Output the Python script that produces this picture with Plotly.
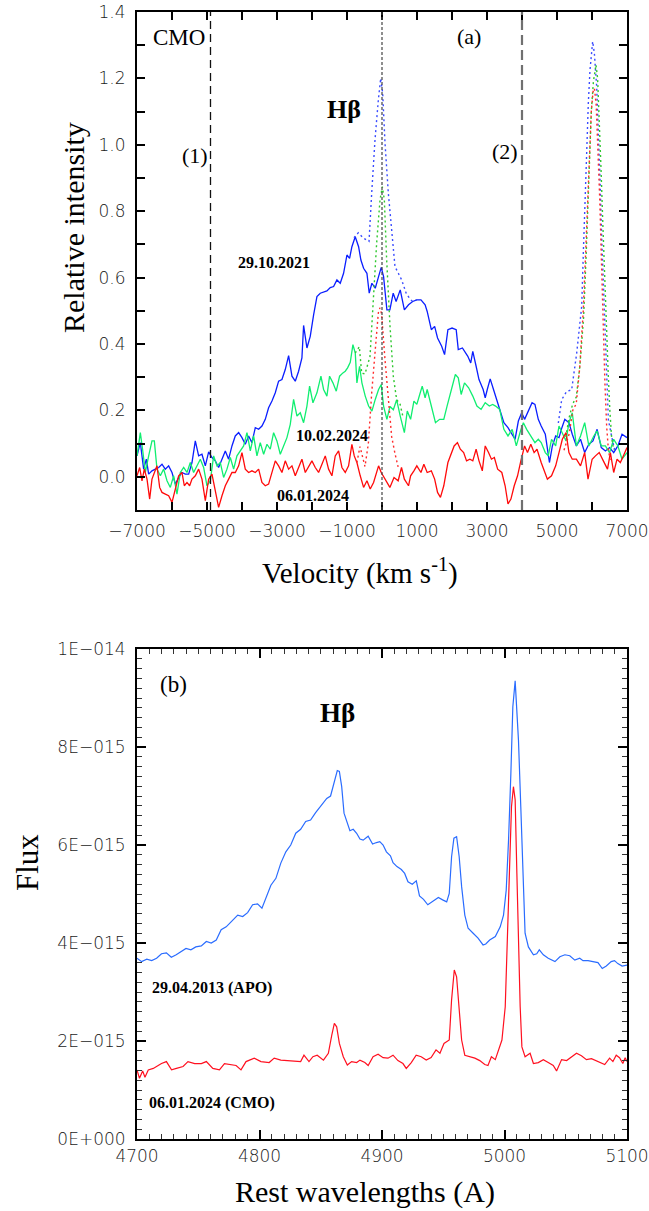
import plotly.graph_objects as go

# ---------------- Panel (a): H-beta velocity profiles (CMO) ----------------
vel_blue = [-7000,-6905,-6810,-6733,-6667,-6572,-6476,-6381,-6286,-6191,-6096,-6000,-5905,-5810,-5715,-5620,-5524,-5429,-5334,-5239,
            -5144,-5048,-4953,-4858,-4763,-4668,-4572,-4477,-4382,-4287,-4192,-4096,-4001,-3906,-3811,-3716,-3620,-3525,-3430,-3335,
            -3240,-3144,-3049,-2954,-2859,-2764,-2668,-2573,-2478,-2383,-2288,-2240,-2145,-2050,-1954,-1859,-1764,-1669,-1574,-1478,
            -1383,-1288,-1193,-1098,-1002,-926,-860,-765,-669,-603,-526,-431,-365,-289,-193,-98,-22,45,140,225,
            320,403,521,639,758,876,995,1113,1232,1291,1409,1504,1587,1705,1788,1883,2001,2120,2179,2298,
            2357,2452,2535,2594,2689,2771,2890,2949,3008,3091,3186,3281,3364,3482,3600,3719,3802,3896,3991,4074,
            4192,4287,4370,4465,4548,4666,4784,4867,4962,5057,5140,5223,5341,5436,5554,5672,5791,5910,6028,6146,
            6265,6383,6502,6620,6739,6857,7000]
int_blue = [0.063,0.103,0.023,0.053,0.008,0.018,0.023,0.028,0.038,0.023,0.033,0.013,-0.022,-0.002,0.013,0.008,0.008,0.043,0.108,0.063,
            0.068,0.033,0.075,0.058,0.048,0.028,0.053,0.078,0.053,0.093,0.123,0.133,0.118,0.098,0.123,0.103,0.148,0.143,0.153,0.173,
            0.208,0.228,0.253,0.288,0.293,0.323,0.365,0.303,0.288,0.318,0.358,0.456,0.388,0.423,0.488,0.543,0.553,0.556,0.560,0.570,
            0.573,0.593,0.583,0.613,0.668,0.658,0.693,0.723,0.693,0.653,0.628,0.613,0.553,0.583,0.568,0.603,0.631,0.603,0.503,0.503,
            0.553,0.528,0.563,0.503,0.518,0.528,0.533,0.533,0.518,0.498,0.443,0.453,0.418,0.393,0.368,0.443,0.448,0.443,0.383,0.388,
            0.378,0.363,0.343,0.378,0.333,0.293,0.263,0.238,0.263,0.295,0.263,0.233,0.203,0.163,0.148,0.128,0.113,0.168,0.193,0.173,
            0.203,0.223,0.218,0.173,0.153,0.128,0.043,0.093,0.123,0.118,0.148,0.173,0.163,0.128,0.093,0.113,0.073,0.098,0.108,0.143,
            0.088,0.078,0.088,0.073,0.093,0.128,0.118]

vel_green = [-7000,-6905,-6829,-6762,-6667,-6572,-6505,-6429,-6334,-6238,-6143,-6048,-5953,-5858,-5762,-5667,-5572,-5477,-5382,-5286,
             -5191,-5096,-5001,-4906,-4810,-4715,-4620,-4525,-4430,-4334,-4239,-4144,-4049,-3954,-3858,-3763,-3668,-3573,-3478,-3382,
             -3287,-3192,-3097,-3002,-2906,-2811,-2716,-2621,-2526,-2430,-2335,-2240,-2145,-2069,-1973,-1859,-1745,-1669,-1574,-1498,
             -1402,-1307,-1212,-1117,-1050,-983,-907,-831,-764,-717,-641,-574,-479,-383,-288,-193,-98,-22,45,140,
             229,324,419,521,639,722,817,912,995,1078,1149,1232,1291,1386,1468,1528,1646,1765,1859,1978,
             2096,2179,2262,2357,2475,2594,2712,2831,2949,3067,3162,3245,3364,3482,3600,3719,3837,3956,4039,4133,
             4252,4370,4465,4548,4666,4749,4844,4962,5057,5140,5258,5341,5436,5554,5672,5791,5910,6052,6146,6265,
             6383,6502,6620,6739,6857,7000]
int_green = [0.063,0.133,0.073,0.013,0.063,0.108,0.108,0.023,0.003,0.023,-0.012,-0.032,0.003,-0.052,0.013,0.028,0.013,0.043,0.013,0.033,
             0.053,0.028,-0.027,-0.012,0.063,0.033,0.043,-0.002,0.023,0.058,0.023,0.063,0.078,0.093,0.133,0.078,0.123,0.063,0.103,0.068,
             0.098,0.083,0.133,0.108,0.068,0.093,0.118,0.158,0.233,0.183,0.193,0.163,0.213,0.273,0.223,0.253,0.303,0.263,0.243,0.303,
             0.283,0.258,0.303,0.313,0.318,0.328,0.345,0.398,0.373,0.283,0.333,0.283,0.243,0.213,0.198,0.233,0.263,0.278,0.213,0.173,
             0.212,0.202,0.232,0.183,0.133,0.198,0.173,0.228,0.218,0.248,0.273,0.238,0.263,0.223,0.183,0.163,0.173,0.173,0.213,0.258,
             0.308,0.298,0.248,0.283,0.268,0.243,0.213,0.203,0.223,0.213,0.218,0.213,0.203,0.143,0.123,0.143,0.093,0.138,0.163,0.143,
             0.123,0.103,0.113,0.103,0.073,0.063,0.113,0.093,0.153,0.133,0.108,0.163,0.193,0.093,0.123,0.163,0.093,0.123,0.138,0.093,
             0.093,0.073,0.113,0.093,0.053,0.073]

vel_red = [-7000,-6924,-6857,-6791,-6714,-6638,-6572,-6505,-6429,-6353,-6286,-6191,-6096,-6000,-5905,-5810,-5715,-5648,-5572,-5496,
           -5429,-5334,-5239,-5144,-5048,-4953,-4858,-4763,-4668,-4572,-4477,-4382,-4287,-4192,-4096,-4001,-3906,-3811,-3716,-3620,
           -3525,-3430,-3335,-3240,-3144,-3049,-2954,-2859,-2764,-2668,-2573,-2478,-2383,-2288,-2192,-2097,-2002,-1907,-1812,-1716,
           -1621,-1526,-1431,-1336,-1240,-1145,-1050,-955,-860,-793,-717,-622,-526,-431,-336,-241,-98,-22,106,225,
           343,462,557,639,758,817,912,995,1113,1196,1291,1409,1504,1587,1670,1765,1883,1978,2061,2155,
           2238,2333,2416,2511,2594,2689,2771,2866,2949,3044,3127,3210,3304,3423,3518,3600,3683,3778,3873,3967,
           4074,4157,4252,4346,4429,4548,4630,4725,4844,4962,5057,5152,5258,5341,5436,5554,5672,5791,5886,6004,
           6099,6206,6324,6443,6525,6620,6715,6810,6917,7000]
int_red = [0.003,0.028,-0.012,0.023,-0.007,-0.067,-0.007,0.013,0.033,-0.032,-0.047,-0.052,-0.057,-0.077,-0.037,0.003,0.013,-0.027,-0.017,-0.027,
           -0.007,0.003,0.023,-0.007,-0.072,-0.007,0.008,-0.047,-0.092,-0.057,-0.027,-0.007,0.013,0.013,0.033,0.073,0.023,0.013,0.018,0.013,
           0.023,-0.017,-0.027,-0.022,0.013,0.048,0.033,0.013,0.048,0.023,0.033,0.003,0.028,0.053,0.013,0.033,0.048,0.028,0.013,0.038,
           0.063,0.023,0.003,0.063,0.078,0.028,0.013,0.033,0.098,0.063,0.043,0.003,-0.032,-0.012,-0.037,-0.017,0.033,0.013,-0.012,-0.032,
           -0.002,-0.012,0.028,-0.007,-0.027,0.003,0.018,0.033,0.013,0.038,0.013,0.018,-0.007,-0.047,-0.062,-0.027,0.043,0.073,0.093,0.103,
           0.083,0.073,0.048,0.053,0.048,0.083,0.048,0.018,0.093,0.073,0.053,0.058,0.023,0.013,-0.027,-0.082,-0.067,-0.027,0.003,0.048,
           0.093,0.073,0.098,0.073,0.083,0.043,0.018,-0.007,0.003,0.033,0.073,0.113,0.133,0.073,0.053,0.053,0.033,0.073,-0.007,0.053,
           0.063,0.073,0.048,0.023,0.073,0.013,0.053,0.043,0.068,0.088]

# Observed profiles including the narrow components (dotted)
nhb_vel_blue = [-800,-677,-533,-371,-295,-200,-105,-38,19,86,181,276,371,467,562,700,850,1000]
nhb_int_blue = [0.72,0.735,0.719,0.709,0.854,1.015,1.135,1.20,1.156,1.005,0.854,0.754,0.633,0.613,0.593,0.55,0.53,0.533]
nhb_vel_green = [-764,-648,-581,-486,-343,-248,-152,-57,10,67,133,229,324,419,514,600]
nhb_int_green = [0.373,0.392,0.312,0.31,0.362,0.533,0.705,0.834,0.874,0.834,0.654,0.453,0.302,0.232,0.22,0.18]
nhb_vel_red = [-717,-629,-486,-390,-295,-200,-105,-57,-10,86,181,276,371,460]
nhb_int_red = [0.043,0.091,0.031,0.10,0.252,0.382,0.494,0.509,0.49,0.352,0.222,0.121,0.07,0.03]

o3_vel_blue = [5038,5133,5276,5419,5562,5705,5752,5800,5848,5895,5943,6019,6067,6133,6181,6229,6276,6324,6371,6419,6467,6562,6650]
o3_int_blue = [0.162,0.232,0.257,0.262,0.372,0.513,0.674,0.804,0.975,1.126,1.226,1.311,1.276,1.176,1.045,0.895,0.724,0.573,0.423,0.272,0.172,0.121,0.08]
o3_vel_green = [5250,5350,5450,5550,5650,5760,5830,5880,5930,5980,6040,6090,6114,6160,6210,6260,6310,6360,6410,6460,6510,6560,6620]
o3_int_green = [0.12,0.18,0.22,0.24,0.33,0.48,0.66,0.82,0.98,1.10,1.19,1.235,1.241,1.20,1.08,0.92,0.76,0.60,0.45,0.32,0.20,0.12,0.08]
o3_vel_red = [5200,5350,5450,5550,5650,5750,5820,5880,5930,5980,6030,6070,6120,6170,6220,6270,6320,6370,6420,6470,6520]
o3_int_red = [0.08,0.13,0.20,0.22,0.33,0.50,0.68,0.86,1.00,1.10,1.16,1.17,1.12,1.00,0.84,0.65,0.45,0.28,0.15,0.08,0.05]

marker_velocities = [-4900, 0, 4000]
vel_ticks = [-7000, -5000, -3000, -1000, 1000, 3000, 5000, 7000]
int_ticks = [0.0, 0.2, 0.4, 0.6, 0.8, 1.0, 1.2, 1.4]

# ---------------- Panel (b): spectra in rest wavelengths ----------------
wl_apo = [4700,4703.8,4708,4712,4716,4720,4724,4728,4732,4736,4740,4744,4748,4752.5,4756.6,4760.6,4764.7,4768.7,4772.8,4776.8,
          4782.2,4786.3,4790.3,4794.4,4798.4,4802,4805.2,4809.3,4813.4,4817.4,4821.5,4825.5,4829.6,4833.6,4837.7,4841.7,4845.8,4849.9,4854.9,4858,
          4861.7,4863.5,4865.2,4867.1,4869,4871.1,4873.8,4876.5,4879.3,4882,4884.6,4888.7,4892.3,4895.5,4898.2,4900.9,4903.6,4906.9,4909,4912.2,
          4915.8,4918.5,4921.2,4924.7,4928,4930.6,4933.9,4937.4,4941.9,4946,4949.5,4952.8,4954.9,4956.8,4958.7,4960.9,4963,4965,4967.6,4970.3,
          4974.4,4978.4,4982.5,4984.7,4987.9,4992.5,4996.5,4999.2,5001.4,5003.3,5005.2,5006.8,5008.7,5011.4,5013.3,5015,5016.8,5019.5,5023.6,5026.3,
          5028.4,5031.7,5035.7,5041.2,5045.2,5049.3,5053.3,5057.4,5061.4,5064.1,5068.2,5072.2,5076.3,5079.8,5083.1,5087.1,5089.8,5092.5,5096,5100]
flux_apo = [3.69,3.62,3.67,3.64,3.69,3.78,3.80,3.71,3.76,3.82,3.89,3.86,3.92,3.94,4.03,4.00,4.06,4.27,4.33,4.43,
            4.57,4.54,4.62,4.78,4.80,4.71,4.91,5.18,5.32,5.63,5.86,6.00,6.24,6.32,6.48,6.51,6.66,6.80,6.95,7.00,
            7.39,7.52,7.50,7.19,6.65,6.48,6.29,6.32,6.24,6.12,6.10,6.18,6.02,6.05,6.07,6.00,5.86,5.78,5.64,5.56,
            5.50,5.42,5.25,5.20,5.27,4.96,4.89,4.78,4.86,4.93,4.88,4.84,5.01,5.76,6.14,6.17,5.76,5.15,4.57,4.30,
            4.20,4.10,3.96,3.98,4.06,4.13,4.33,4.57,5.08,6.10,7.46,8.82,9.35,8.14,6.78,5.42,4.20,3.92,3.76,3.78,
            3.86,3.76,3.69,3.62,3.72,3.76,3.74,3.65,3.69,3.64,3.64,3.62,3.60,3.48,3.53,3.62,3.64,3.58,3.53,3.55]

wl_cmo = [4700,4702,4704.6,4706.5,4709.2,4713.3,4717.3,4720,4724,4728.2,4732.2,4737.6,4741.6,4747.1,4752.5,4756.6,4761.9,4767.3,4771.4,4775.5,
          4780.9,4784.9,4789,4795.7,4801.2,4807.9,4812,4817.4,4822.8,4828.2,4833.6,4836.3,4840.4,4843.6,4847.1,4852.2,4856.2,4859,4861.1,4863,
          4865.2,4868.4,4871.7,4875.2,4879.3,4882,4886,4888.7,4892.7,4896.8,4900.9,4904.9,4909,4913,4917.1,4919.8,4923.9,4927.9,4932,4936.1,
          4940.1,4944.1,4947.3,4950.6,4952.7,4954.9,4956.8,4959,4960.9,4963,4965,4967.6,4971.7,4975.8,4979.8,4983.9,4986.5,4989.3,4992.5,4995.2,
          4997.9,5000.6,5002.5,5004.1,5005.7,5007.3,5008.7,5010.1,5011.4,5012.8,5014.2,5016.8,5020.9,5023.6,5027.6,5031.7,5035.7,5039.8,5042.5,5046.6,
          5050.7,5054.7,5058.8,5062.8,5066.9,5071,5075,5079.1,5081.8,5085.8,5088.5,5091.2,5093.9,5096.6,5098.5,5100]
flux_cmo = [1.41,1.24,1.39,1.26,1.41,1.44,1.50,1.54,1.58,1.41,1.44,1.48,1.58,1.54,1.54,1.58,1.44,1.41,1.54,1.52,
            1.50,1.41,1.58,1.65,1.58,1.56,1.65,1.61,1.60,1.60,1.58,1.71,1.58,1.68,1.71,1.61,1.75,2.12,2.36,2.29,
            1.95,1.68,1.51,1.58,1.56,1.61,1.56,1.50,1.68,1.73,1.66,1.65,1.71,1.60,1.54,1.44,1.56,1.71,1.68,1.61,
            1.66,1.82,1.75,1.95,1.99,2.02,2.84,3.45,3.31,2.70,2.02,1.71,1.68,1.65,1.60,1.52,1.50,1.68,1.62,1.80,
            2.02,2.70,4.06,5.42,6.78,7.19,6.92,5.42,4.06,2.70,1.88,1.68,1.75,1.54,1.56,1.62,1.56,1.50,1.39,1.62,
            1.60,1.68,1.75,1.70,1.62,1.64,1.60,1.56,1.52,1.65,1.58,1.71,1.66,1.54,1.66,1.58]

FLUX_UNIT = 1e-15
wl_ticks = [4700, 4800, 4900, 5000, 5100]
flux_ticks = [0, 2, 4, 6, 8, 10]
flux_ticklabels = ["0E+000", "2E\u2212015", "4E\u2212015", "6E\u2212015", "8E\u2212015", "1E\u2212014"]

for a, b in [(vel_blue, int_blue), (vel_green, int_green), (vel_red, int_red),
             (nhb_vel_blue, nhb_int_blue), (nhb_vel_green, nhb_int_green), (nhb_vel_red, nhb_int_red),
             (o3_vel_blue, o3_int_blue), (o3_vel_green, o3_int_green), (o3_vel_red, o3_int_red),
             (wl_apo, flux_apo), (wl_cmo, flux_cmo)]:
    assert len(a) == len(b), (len(a), len(b))

W, H = 649, 1211
SERIF = "Liberation Serif, Times New Roman, serif"
SANS = "DejaVu Sans, sans-serif"

fig = go.Figure()

# Solid profiles (narrow lines removed)
for v, i, col in [(vel_blue, int_blue, "#0a1eff"), (vel_green, int_green, "#10ee70"), (vel_red, int_red, "#ff0a0a")]:
    fig.add_trace(go.Scatter(x=v, y=i, mode="lines", line=dict(color=col, width=1.3),
                             xaxis="x", yaxis="y", showlegend=False))

# Dotted observed profiles around narrow H-beta and [OIII]
for v, i, col in [(nhb_vel_blue, nhb_int_blue, "#3a4cff"), (nhb_vel_green, nhb_int_green, "#30c830"),
                  (nhb_vel_red, nhb_int_red, "#ff2a2a"),
                  (o3_vel_blue, o3_int_blue, "#3a4cff"), (o3_vel_green, o3_int_green, "#30c830"),
                  (o3_vel_red, o3_int_red, "#ff2a2a")]:
    fig.add_trace(go.Scatter(x=v, y=i, mode="lines", line=dict(color=col, width=1.4, dash="2px,3px"),
                             xaxis="x", yaxis="y", showlegend=False))

# Panel (b) spectra
fig.add_trace(go.Scatter(x=wl_apo, y=[f * FLUX_UNIT for f in flux_apo], mode="lines",
                         line=dict(color="#2a6cff", width=1.2), xaxis="x2", yaxis="y2", showlegend=False))
fig.add_trace(go.Scatter(x=wl_cmo, y=[f * FLUX_UNIT for f in flux_cmo], mode="lines",
                         line=dict(color="#ff1020", width=1.2), xaxis="x2", yaxis="y2", showlegend=False))

# Vertical reference lines in panel (a)
marker_styles = [("#111111", 1.3, "8px,5px"), ("#444444", 1.2, "3px,2px"), ("#707070", 2.2, "10px,5px")]
for xv, (col, wd, ds) in zip(marker_velocities, marker_styles):
    fig.add_shape(type="line", xref="x", yref="y domain", x0=xv, x1=xv, y0=0, y1=1,
                  line=dict(color=col, width=wd, dash=ds))

x_dom = [137 / W, 627 / W]
tickfont = dict(family=SANS, size=17, color="#1a1a1a", weight=200)
axis_common = dict(showline=True, linecolor="black", linewidth=2, mirror="allticks", showgrid=False,
                   zeroline=False, ticks="inside", tickcolor="black", tickwidth=1.5, tickfont=tickfont,
                   automargin=False)

fig.update_layout(
    width=W, height=H, autosize=False,
    margin=dict(l=0, r=0, t=0, b=0, pad=0, autoexpand=False),
    paper_bgcolor="white", plot_bgcolor="white",
    xaxis=dict(domain=x_dom, range=[-7000, 7000], anchor="y", ticklabelstandoff=5,
               tickvals=vel_ticks, ticktext=[str(t).replace("-", "\u2212") for t in vel_ticks], ticklen=8,
               minor=dict(ticks="inside", dtick=1000, tick0=-7000, ticklen=8, tickwidth=1.5, tickcolor="black"),
               **axis_common),
    yaxis=dict(domain=[1 - 510 / H, 1 - 12 / H], range=[-0.1, 1.4], anchor="x", ticklabelstandoff=6,
               tickvals=int_ticks, ticktext=[f"{t:.1f}" for t in int_ticks], ticklen=8,
               minor=dict(ticks="inside", dtick=0.1, tick0=0, ticklen=8, tickwidth=1.5, tickcolor="black"),
               **axis_common),
    xaxis2=dict(domain=x_dom, range=[4700, 5100], anchor="y2", ticklabelstandoff=1,
                tickvals=wl_ticks, ticktext=[str(t) for t in wl_ticks], ticklen=9,
                minor=dict(ticks="inside", dtick=10, tick0=4700, ticklen=5, tickwidth=1.3, tickcolor="#333333"),
                **axis_common),
    yaxis2=dict(domain=[1 - 1139 / H, 1 - 649 / H], range=[0, 10 * FLUX_UNIT], anchor="x2", ticklabelstandoff=6,
                tickvals=[t * FLUX_UNIT for t in flux_ticks], ticktext=flux_ticklabels, ticklen=9,
                minor=dict(ticks="inside", dtick=0.2 * FLUX_UNIT, tick0=0, ticklen=5, tickwidth=1.3, tickcolor="#333333"),
                **axis_common),
)

def note(text, x, y, size, bold=False, xref="x", yref="y", angle=0):
    fig.add_annotation(text=f"<b>{text}</b>" if bold else text, x=x, y=y, xref=xref, yref=yref,
                       showarrow=False, textangle=angle, xanchor="center", yanchor="middle",
                       font=dict(family=SERIF, size=size, color="black"))

# Panel (a) labels
note("CMO", -5800, 1.322, 23)
note("(a)", 2486, 1.325, 22)
note("H\u03b2", -1086, 1.105, 26, bold=True)
note("(1)", -5343, 0.967, 22)
note("(2)", 3514, 0.979, 22)
note("29.10.2021", -3086, 0.645, 16, bold=True)
note("10.02.2024", -1429, 0.123, 16, bold=True)
note("06.01.2024", -1971, -0.057, 16, bold=True)

# Panel (b) labels
note("(b)", 4730, 9.27 * FLUX_UNIT, 23, xref="x2", yref="y2")
note("H\u03b2", 4864, 8.69 * FLUX_UNIT, 27, bold=True, xref="x2", yref="y2")
note("29.04.2013 (APO)", 4761, 3.08 * FLUX_UNIT, 16, bold=True, xref="x2", yref="y2")
note("06.01.2024 (CMO)", 4761, 0.73 * FLUX_UNIT, 16, bold=True, xref="x2", yref="y2")

# Axis titles
note("Relative intensity", 73 / W, 1 - 228 / H, 30, xref="paper", yref="paper", angle=-90)
note("Velocity (km s<sup>-1</sup>)", 360 / W, 1 - 571 / H, 29, xref="paper", yref="paper")
note("Flux", 27 / W, 1 - 863 / H, 31, xref="paper", yref="paper", angle=-90)
note("Rest wavelengths (A)", 365 / W, 1 - 1192 / H, 30, xref="paper", yref="paper")

fig.write_html("out.html")
